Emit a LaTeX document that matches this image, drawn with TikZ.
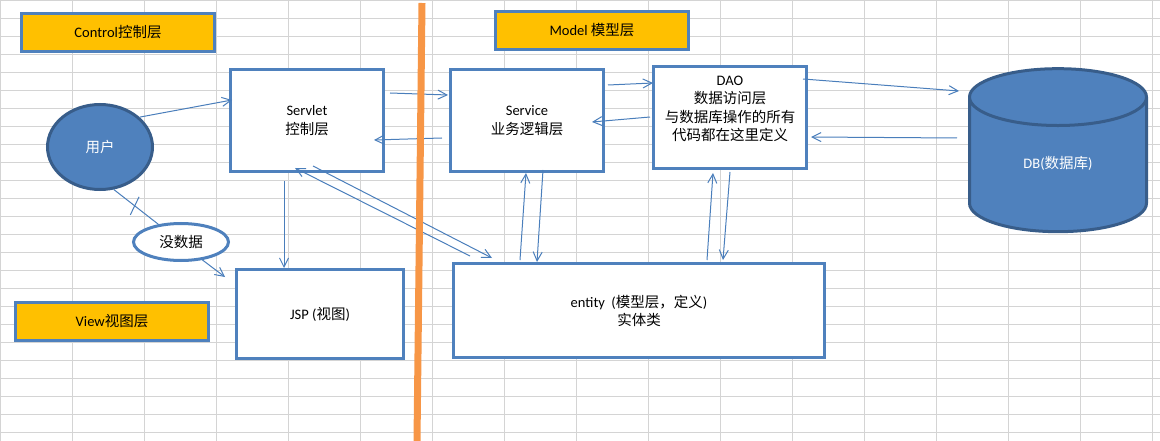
\documentclass[tikz,border=0pt]{standalone}
\usepackage{fontspec}
\setmainfont{Carlito}
\newfontfamily\zh{Noto Sans CJK SC}
\usepackage{tikz}
\usetikzlibrary{arrows.meta}
\usetikzlibrary{positioning}
\usetikzlibrary{shapes.geometric}
\usetikzlibrary{decorations.markings}
\definecolor{boxblue}{HTML}{4F81BD}
\definecolor{darkblue}{HTML}{385D8A}
\definecolor{linkblue}{HTML}{4A7EBB}
\definecolor{layeryellow}{HTML}{FFC000}
\definecolor{divorange}{HTML}{F79646}
\definecolor{cellgrid}{HTML}{D4D4D4}

\begin{document}
\begin{tikzpicture}[x=1pt, y=-1pt,
        font=\fontsize{14.5}{18.5}\selectfont,
        >={Straight Barb[length=9pt,width=9pt]},
        layerbox/.style={draw=boxblue, line width=3pt, fill=layeryellow,
            minimum width=193pt, minimum height=38pt},
        partbox/.style={draw=boxblue, line width=3pt, fill=white, align=center,
            minimum width=153pt, minimum height=102pt},
        linkline/.style={draw=linkblue, line width=1pt},
        cellline/.style={draw=cellgrid, line width=1pt}]
        \useasboundingbox (0,0) rectangle (1160,441);

        % sheet grid
        \foreach \gx in {0,...,16}
            \draw [cellline] (\gx*72+0.5,0) -- (\gx*72+0.5,441);
        \foreach \gy in {0,...,24}
            \draw [cellline] (0,\gy*18+0.5) -- (1160,\gy*18+0.5);

        \node [layerbox] (control) at (118,32.5) {Control{\zh 控制层}};
        \node [layerbox] (model) at (592,30.5) {Model {\zh 模型层}};
        \node [layerbox] (view) at (112,321.5) {View{\zh 视图层}};

        \node [partbox] (servlet) at (307,120.5) {Servlet\\{\zh 控制层}};
        \node [partbox, right = 64pt of servlet] (service) {Service\\{\zh 业务逻辑层}};
        \node [partbox, right = 47pt of service, yshift=3pt] (dao)
            {DAO\\{\zh 数据访问层}\\{\zh 与数据库操作的所有}\\{\zh 代码都在这里定义}\\\mbox{}};

        \node [partbox, minimum width=167pt, minimum height=89pt] (jsp) at (320,314) {JSP ({\zh 视图})};
        \node [partbox, minimum width=371pt, minimum height=94pt] (entity) at (639,310.7)
            {entity\ \ ({\zh 模型层，定义})\\{\zh 实体类}};

        \node [ellipse, draw=darkblue, line width=3pt, fill=boxblue, text=white,
            minimum width=105pt, minimum height=85pt] (user) at (100,147) {\zh 用户};
        \node [ellipse, draw=boxblue, line width=3pt, fill=white,
            minimum width=95pt, minimum height=37pt] (nodata) at (181,242) {\zh 没数据};
        \node [cylinder, shape border rotate=90, aspect=0.75, draw=darkblue, line width=3pt,
            fill=boxblue, text=white, minimum width=177pt, minimum height=163pt] (db)
            at (1058,169) {\raisebox{13pt}{DB({\zh 数据库})}};

        \draw [linkline, ->] (user.37) -- ([xshift=3pt,yshift=20.5pt]servlet.west);
        \draw [linkline, postaction={decorate, decoration={markings,
            mark=at position 0.47 with {\draw [linkline, rotate=12] (0pt,-10pt) -- (0pt,10pt);}}}]
            (user.-72) -- (nodata.142);
        \draw [linkline, ->] (nodata.-40) -- ([xshift=-10pt,yshift=-9pt]jsp.north west);
        \draw [linkline, ->] ([xshift=-23pt,yshift=-8pt]servlet.south) -- ([xshift=-36pt]jsp.north);

        \draw [linkline, ->] ([xshift=5pt,yshift=27.5pt]servlet.east) -- ([xshift=-1pt,yshift=25.5pt]service.west);
        \draw [linkline, ->] ([xshift=-7pt,yshift=-17.5pt]service.west) -- ([xshift=-11pt,yshift=-19.5pt]servlet.east);
        \draw [linkline, ->] ([xshift=18pt,yshift=6.2pt]entity.north west) -- ([xshift=-12pt,yshift=5pt]servlet.south);
        \draw [linkline, ->] ([xshift=6pt,yshift=7pt]servlet.south) -- ([xshift=40pt,yshift=4.2pt]entity.north west);

        \draw [linkline, ->] ([xshift=3pt,yshift=35.5pt]service.east) -- ([xshift=1pt,yshift=34.5pt]dao.west);
        \draw [linkline, ->] ([xshift=-2pt,yshift=0.5pt]dao.west) -- ([xshift=-13pt,yshift=-1.5pt]service.east);
        \draw [linkline, ->] ([xshift=68pt,yshift=2.2pt]entity.north west) -- ([xshift=-1pt]service.south);
        \draw [linkline, ->] ([xshift=16pt,yshift=3pt]service.south) -- ([xshift=85pt,yshift=0.2pt]entity.north west);
        \draw [linkline, ->] ([xshift=68pt,yshift=2.2pt]entity.north) -- ([xshift=-17pt,yshift=-3pt]dao.south);
        \draw [linkline, ->] ([yshift=-2pt]dao.south) -- ([xshift=84pt,yshift=2.2pt]entity.north);

        \draw [linkline, ->] ([xshift=-5pt,yshift=38.5pt]dao.east) -- ([xshift=-9pt,yshift=78pt]db.west);
        \draw [linkline, ->] ([xshift=-11pt,yshift=31pt]db.west) -- ([xshift=3pt,yshift=-19.5pt]dao.east);

        \draw [line width=7pt, divorange] (422,3) -- (417,441);
    \end{tikzpicture}
\end{document}
